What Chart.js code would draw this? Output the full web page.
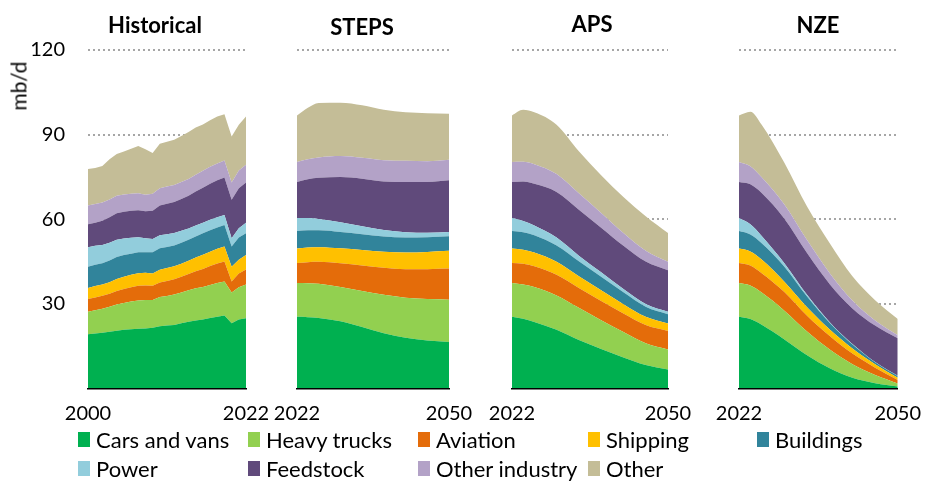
<!DOCTYPE html>
<html lang="en">

<head>
    <meta charset="UTF-8">
    <title>oil demand by sector</title>
    <script src="https://cdn.jsdelivr.net/npm/chart.js@4.4.0/dist/chart.umd.min.js"></script>
    <style>
        body { margin: 0; background: #fff; }
        #wrap { position: relative; width: 926px; height: 483px; font-family: Lato, sans-serif; color: #000; }
        canvas { position: absolute; top: 0; }
        .ttl { position: absolute; font-weight: bold; font-size: 22px; line-height: 26px; transform: translateX(-50%); white-space: nowrap; }
        .unit { position: absolute; left: 18px; top: 86px; font-size: 21px; transform: translate(-50%, -50%) rotate(-90deg); }
        .leg { position: absolute; font-size: 22px; line-height: 26px; white-space: nowrap; }
        .leg i { position: absolute; left: -18px; top: 5px; width: 12px; height: 15px; }
    </style>
</head>

<body>
    <div id="wrap">
        <canvas id="hist" width="300" height="483" style="left:0px"></canvas>
        <canvas id="steps" width="225" height="483" style="left:262px"></canvas>
        <canvas id="aps" width="226" height="483" style="left:477px"></canvas>
        <canvas id="nze" width="222" height="483" style="left:704px"></canvas>
        <div class="unit">mb/d</div>
        <div class="ttl" style="left:155px; top:12px">Historical</div>
        <div class="ttl" style="left:362px; top:14px">STEPS</div>
        <div class="ttl" style="left:592px; top:11px">APS</div>
        <div class="ttl" style="left:818px; top:12px">NZE</div>
        <div id="legend"></div>
    </div>

    <script>
        const sectors = ['Cars and vans', 'Heavy trucks', 'Aviation', 'Shipping', 'Buildings',
            'Power', 'Feedstock', 'Other industry', 'Other'];
        const colors = ['#00b050', '#92d050', '#e46c0a', '#ffc000', '#31849b',
            '#92cddc', '#604a7b', '#b3a2c7', '#c4bd97'];

        const histYears = [2000, 2001, 2002, 2003, 2004, 2005, 2006, 2007, 2008, 2009, 2010, 2011,
            2012, 2013, 2014, 2015, 2016, 2017, 2018, 2019, 2020, 2021, 2022];
        const histCars = [19.2, 19.5, 19.8, 20.1, 20.5, 20.8, 21.0, 21.2, 21.3, 21.5, 22.1, 22.3, 22.5, 23.1, 23.7, 24.1, 24.5, 25.0, 25.4, 25.9, 23.1, 24.5, 24.9];
        const histTrucks = [8.0, 8.2, 8.5, 8.9, 9.3, 9.5, 9.8, 10.0, 10.1, 9.9, 10.3, 10.5, 10.8, 10.9, 11.1, 11.4, 11.5, 11.7, 12.0, 12.0, 10.9, 11.4, 12.0];
        const histAviation = [4.5, 4.6, 4.6, 4.6, 4.8, 5.0, 5.1, 5.2, 5.1, 5.0, 5.2, 5.3, 5.4, 5.6, 5.8, 6.1, 6.4, 6.7, 6.9, 7.1, 3.9, 4.9, 5.3];
        const histShipping = [3.9, 4.0, 4.0, 4.1, 4.2, 4.3, 4.4, 4.5, 4.5, 4.4, 4.5, 4.6, 4.6, 4.6, 4.7, 4.8, 5.0, 5.1, 5.2, 5.3, 5.3, 4.8, 5.1];
        const histBuildings = [7.6, 7.6, 7.5, 7.7, 7.8, 7.7, 7.5, 7.4, 7.3, 7.5, 7.6, 7.5, 7.4, 7.5, 7.4, 7.5, 7.6, 7.6, 7.6, 7.7, 7.1, 7.9, 7.7];
        const histPower = [6.9, 6.7, 6.5, 6.3, 6.1, 5.9, 5.6, 5.3, 5.0, 4.7, 4.6, 4.5, 4.4, 4.2, 4.0, 3.9, 3.8, 3.7, 3.6, 3.5, 3.0, 3.3, 3.8];
        const histFeedstock = [8.1, 8.2, 8.6, 9.0, 9.4, 9.5, 9.6, 9.6, 9.5, 10.0, 10.6, 10.8, 11.0, 11.3, 11.6, 12.0, 12.4, 12.8, 13.1, 13.3, 13.6, 14.2, 14.2];
        const histOtherInd = [6.7, 6.6, 6.4, 6.3, 6.2, 6.1, 6.0, 6.0, 5.9, 6.0, 6.1, 6.1, 6.0, 6.0, 6.0, 6.0, 6.0, 6.0, 6.0, 6.0, 6.1, 6.3, 6.3];
        const histOther = [12.9, 12.8, 13.0, 14.3, 14.8, 15.2, 16.0, 16.8, 16.1, 14.5, 15.8, 15.9, 16.1, 16.3, 16.6, 16.7, 16.4, 16.5, 16.6, 16.4, 16.3, 16.2, 17.1];

        // scenario years
        const projYears = [2022, 2024, 2026, 2030, 2034, 2038, 2042, 2046, 2050];

        const stepsCars = [25.4, 25.3, 25.0, 23.8, 21.8, 19.6, 18.0, 17.0, 16.5];
        const stepsTrucks = [12.0, 12.0, 12.1, 12.2, 12.8, 13.6, 14.2, 14.7, 15.0];
        const stepsAviation = [7.1, 7.5, 7.8, 8.4, 9.0, 9.6, 10.1, 10.6, 11.0];
        const stepsShipping = [5.1, 5.2, 5.2, 5.3, 5.5, 5.7, 5.9, 6.1, 6.3];
        const stepsBuildings = [6.2, 6.1, 6.0, 5.8, 5.6, 5.4, 5.3, 5.2, 5.2];
        const stepsPower = [4.6, 4.3, 4.0, 3.4, 2.8, 2.3, 1.9, 1.6, 1.5];
        const stepsFeedstock = [12.8, 13.8, 14.6, 16.1, 16.9, 17.2, 17.8, 18.0, 18.3];
        const stepsOtherInd = [7.1, 7.1, 7.2, 7.4, 7.4, 7.5, 7.5, 7.4, 7.3];
        const stepsOther = [16.5, 18.2, 19.3, 18.9, 18.6, 17.9, 17.2, 17.0, 16.3];

        const apsCars = [25.4, 24.7, 23.6, 20.8, 17.2, 14.0, 11.0, 8.3, 6.7];
        const apsTrucks = [12.0, 12.2, 12.4, 12.2, 11.4, 10.2, 9.0, 7.7, 7.1];
        const apsAviation = [7.1, 7.3, 7.3, 7.3, 7.0, 6.8, 6.6, 6.5, 6.6];
        const apsShipping = [5.1, 5.0, 4.9, 4.6, 4.2, 3.8, 3.3, 2.9, 2.6];
        const apsBuildings = [6.2, 6.2, 6.1, 5.8, 5.3, 4.8, 4.2, 3.6, 3.3];
        const apsPower = [4.6, 4.0, 3.5, 2.8, 2.0, 1.6, 1.2, 1.0, 0.9];
        const apsFeedstock = [12.8, 14.0, 14.8, 16.2, 16.3, 15.8, 15.3, 15.0, 14.7];
        const apsOtherInd = [7.1, 7.0, 6.9, 6.3, 5.8, 5.2, 4.5, 3.8, 3.0];
        const apsOther = [16.5, 18.4, 18.4, 17.5, 14.9, 13.4, 12.8, 12.3, 10.2];

        const nzeCars = [25.4, 24.6, 22.6, 17.4, 11.8, 7.2, 3.8, 1.9, 0.7];
        const nzeTrucks = [12.0, 11.9, 11.4, 10.2, 8.4, 6.6, 4.8, 2.9, 1.1];
        const nzeAviation = [7.1, 7.1, 6.9, 6.6, 5.6, 4.8, 3.8, 2.6, 1.2];
        const nzeShipping = [5.1, 5.0, 4.8, 3.6, 3.0, 2.3, 1.8, 1.2, 0.8];
        const nzeBuildings = [6.2, 6.0, 5.8, 5.4, 3.8, 2.3, 1.4, 0.7, 0.6];
        const nzePower = [4.6, 3.6, 2.6, 1.2, 0.6, 0.3, 0.2, 0.1, 0.1];
        const nzeFeedstock = [12.8, 14.2, 15.2, 15.8, 14.8, 13.5, 12.6, 12.9, 13.3];
        const nzeOtherInd = [7.1, 6.4, 5.6, 5.0, 4.6, 3.9, 2.8, 1.8, 1.1];
        const nzeOther = [16.5, 19.3, 18.6, 14.8, 11.9, 10.6, 8.6, 7.2, 5.7];

        const yTicks = [30, 60, 90, 120];

        Chart.defaults.font.family = 'Lato, sans-serif';
        Chart.defaults.font.size = 20;
        Chart.defaults.color = '#000';

        function makeChart(id, years, series, smooth, showY, pad) {
            const datasets = series.map((vals, i) => ({
                label: sectors[i],
                data: years.map((yr, j) => ({ x: yr, y: vals[j] })),
                backgroundColor: colors[i],
                borderWidth: 0,
                pointRadius: 0,
                fill: i === 0 ? 'origin' : '-1',
                tension: 0,
                cubicInterpolationMode: smooth ? 'monotone' : 'default'
            }));
            const first = years[0], last = years[years.length - 1];
            return new Chart(document.getElementById(id), {
                type: 'line',
                data: { datasets },
                options: {
                    responsive: false,
                    animation: false,
                    events: [],
                    layout: { padding: { top: 50, bottom: 44.5, left: pad[0], right: pad[1] } },
                    plugins: { legend: { display: false }, tooltip: { enabled: false } },
                    scales: {
                        x: {
                            type: 'linear',
                            min: first,
                            max: last,
                            grid: { display: false },
                            border: { display: true, color: '#000', width: 1.5, z: 1 },
                            ticks: { padding: 5, maxRotation: 0, autoSkip: false, callback: v => String(v) },
                            afterBuildTicks: s => { s.ticks = [{ value: first }, { value: last }]; },
                            afterFit: s => { s.height = 50; }
                        },
                        y: {
                            stacked: true,
                            min: 0,
                            max: 120,
                            grid: {
                                drawTicks: false,
                                lineWidth: 2,
                                color: c => yTicks.includes(c.tick.value) ? '#a6a6a6' : 'rgba(0,0,0,0)'
                            },
                            border: { display: false, dash: [2, 3] },
                            ticks: {
                                display: showY,
                                stepSize: 30,
                                padding: 23,
                                callback: v => yTicks.includes(v) ? String(v) : ''
                            },
                            afterFit: s => { s.width = showY ? 88 : 0; }
                        }
                    }
                }
            });
        }

        makeChart('hist', histYears, [histCars, histTrucks, histAviation, histShipping, histBuildings,
            histPower, histFeedstock, histOtherInd, histOther], false, true, [0, 54]);
        makeChart('steps', projYears, [stepsCars, stepsTrucks, stepsAviation, stepsShipping, stepsBuildings,
            stepsPower, stepsFeedstock, stepsOtherInd, stepsOther], true, false, [35, 38]);
        makeChart('aps', projYears, [apsCars, apsTrucks, apsAviation, apsShipping, apsBuildings,
            apsPower, apsFeedstock, apsOtherInd, apsOther], true, false, [35, 35]);
        makeChart('nze', projYears, [nzeCars, nzeTrucks, nzeAviation, nzeShipping, nzeBuildings,
            nzePower, nzeFeedstock, nzeOtherInd, nzeOther], true, false, [35, 24]);

        // legend: five columns, two rows
        const legX = [96, 266, 436, 606, 775];
        const legY = [427, 456];
        const legend = document.getElementById('legend');
        sectors.forEach((name, i) => {
            const d = document.createElement('div');
            d.className = 'leg';
            d.style.left = legX[i % 5] + 'px';
            d.style.top = legY[Math.floor(i / 5)] + 'px';
            d.innerHTML = '<i style="background:' + colors[i] + '"></i>' + name;
            legend.appendChild(d);
        });
    </script>

</body>

</html>
